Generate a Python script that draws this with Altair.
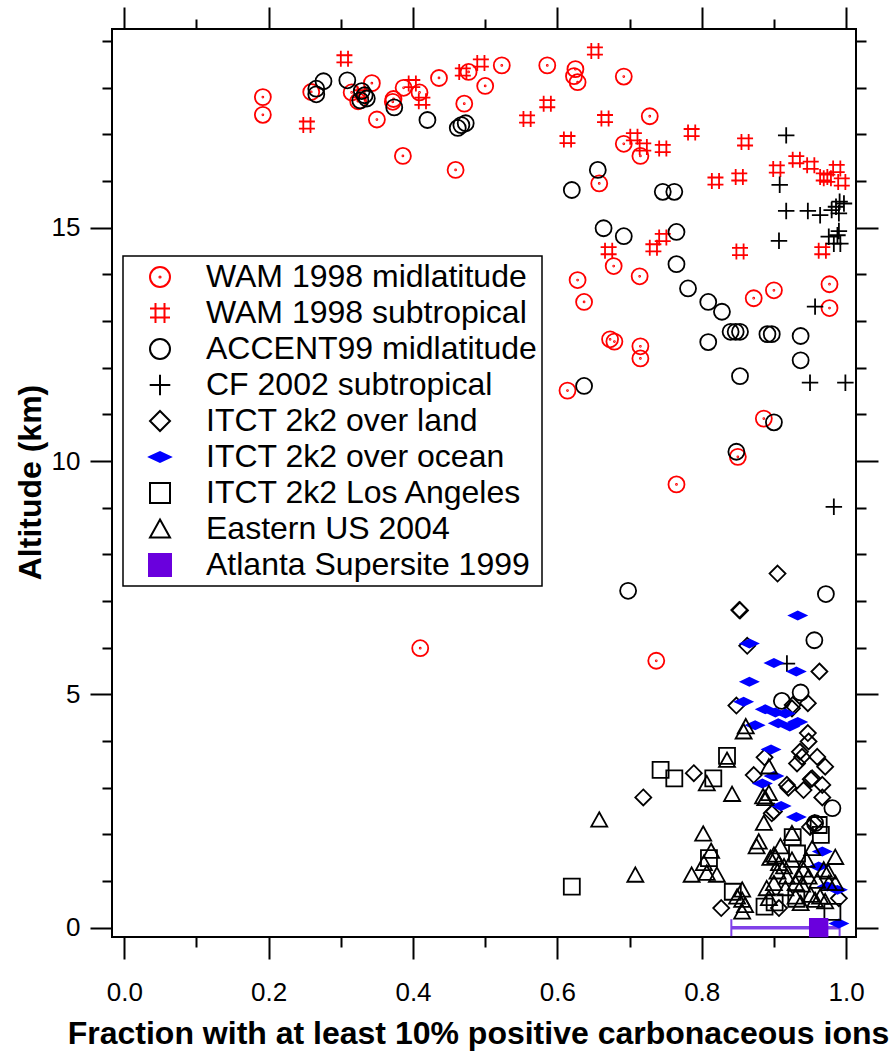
import altair as alt
import pandas as pd

series = ["WAM 1998 midlatitude", "WAM 1998 subtropical", "ACCENT99 midlatitude",
          "CF 2002 subtropical", "ITCT 2k2 over land", "ITCT 2k2 over ocean",
          "ITCT 2k2 Los Angeles", "Eastern US 2004", "Atlanta Supersite 1999"]

wm_x = [0.192, 0.192, 0.259, 0.315, 0.324, 0.343, 0.350, 0.373, 0.372, 0.387, 0.409, 0.436,
        0.471, 0.477, 0.500, 0.523, 0.386, 0.459, 0.586, 0.625, 0.623, 0.628, 0.692, 0.728,
        0.692, 0.715, 0.658, 0.628, 0.637, 0.678, 0.714, 0.673, 0.679, 0.715, 0.715, 0.614,
        0.872, 0.900, 0.977, 0.977, 0.886, 0.850, 0.765, 0.737, 0.410]
wm_y = [17.80, 17.42, 17.91, 17.90, 17.71, 18.10, 17.32, 17.76, 17.70, 18.00, 17.90, 18.21,
        17.66, 18.34, 18.04, 18.48, 16.54, 16.24, 18.48, 18.40, 18.25, 18.12, 18.24, 17.39,
        16.80, 16.54, 15.95, 13.88, 13.41, 14.18, 13.96, 12.61, 12.56, 12.46, 12.20, 11.51,
        13.49, 13.66, 13.79, 13.28, 10.91, 10.09, 9.50, 5.72, 5.99]

ws_x = [0.305, 0.253, 0.328, 0.399, 0.413, 0.469, 0.494, 0.558, 0.652, 0.586, 0.666, 0.614,
        0.706, 0.719, 0.746, 0.786, 0.860, 0.819, 0.852, 0.904, 0.931, 0.951, 0.969, 0.974,
        0.987, 0.994, 0.967, 0.746, 0.733, 0.671, 0.853]
ws_y = [18.62, 17.20, 17.87, 18.09, 17.71, 18.34, 18.53, 17.33, 18.79, 17.66, 17.34, 16.89,
        16.95, 16.73, 16.70, 17.04, 16.84, 16.00, 16.09, 16.26, 16.46, 16.34, 16.09, 16.06,
        16.27, 15.98, 14.51, 14.79, 14.57, 14.51, 14.49]

ac_x = [0.276, 0.266, 0.266, 0.309, 0.329, 0.327, 0.336, 0.333, 0.374, 0.420, 0.462, 0.467,
        0.473, 0.656, 0.620, 0.746, 0.762, 0.664, 0.692, 0.765, 0.765, 0.781, 0.809, 0.828,
        0.840, 0.847, 0.853, 0.891, 0.897, 0.937, 0.937, 0.809, 0.637, 0.853, 0.900, 0.848,
        0.698, 0.972, 0.956, 0.937, 0.911, 0.981, 0.957]
ac_y = [18.14, 17.98, 17.86, 18.16, 17.93, 17.73, 17.77, 17.84, 17.58, 17.31, 17.14, 17.20,
        17.24, 16.24, 15.81, 15.77, 15.77, 14.99, 14.82, 14.91, 14.22, 13.70, 13.41, 13.20,
        12.77, 12.77, 12.77, 12.72, 12.72, 12.68, 12.16, 12.55, 11.61, 11.82, 10.83, 10.20,
        7.22, 7.15, 6.16, 5.04, 4.86, 2.56, 2.24]

cf_x = [0.917, 0.908, 0.917, 0.947, 0.964, 0.980, 0.991, 0.997, 0.990, 0.986, 0.907, 0.976,
        0.988, 0.983, 0.992, 0.990, 0.957, 0.950, 0.999, 0.983, 0.918]
cf_y = [16.98, 15.92, 15.36, 15.36, 15.27, 15.38, 15.56, 15.52, 15.31, 15.45, 14.72, 14.81,
        14.84, 14.66, 14.66, 14.93, 13.31, 11.68, 11.68, 9.02, 5.66]

il_x = [0.905, 0.852, 0.853, 0.863, 0.963, 0.848, 0.926, 0.947, 0.925, 0.947, 0.948, 0.936,
        0.960, 0.971, 0.932, 0.939, 0.887, 0.872, 0.951, 0.967, 0.918, 0.789, 0.719, 0.920,
        0.941, 0.953, 0.967, 0.897, 0.950, 0.956, 0.827, 0.990, 0.907, 0.900]
il_y = [7.59, 6.81, 6.80, 6.04, 5.49, 4.76, 4.77, 4.81, 4.70, 4.17, 3.99, 3.77,
        3.66, 3.45, 3.52, 3.66, 3.65, 3.27, 3.18, 3.06, 3.06, 3.31, 2.79, 3.00,
        2.95, 3.20, 2.79, 2.45, 2.16, 2.24, 0.42, 0.63, 0.42, 2.49]

io_x = [0.933, 0.866, 0.900, 0.931, 0.866, 0.858, 0.888, 0.902, 0.916, 0.906, 0.922, 0.933,
        0.874, 0.896, 0.900, 0.884, 0.910, 0.931, 0.967, 0.962, 0.974, 0.988, 0.990]
io_y = [6.69, 6.09, 5.67, 5.49, 5.27, 4.84, 4.68, 4.61, 4.59, 4.38, 4.31, 4.41,
        4.34, 3.82, 3.25, 3.09, 2.61, 2.37, 1.63, 1.31, 0.88, 0.81, 0.09]

la_x = [0.743, 0.762, 0.816, 0.835, 0.620, 0.843, 0.887, 0.901, 0.931, 0.981, 0.926, 0.962,
        0.965, 0.932, 0.810]
la_y = [3.38, 3.20, 3.20, 3.68, 0.88, 0.77, 0.45, 0.54, 0.62, 0.34, 1.94, 2.20,
        1.99, 1.59, 1.49]

eu_x = [0.658, 0.708, 0.802, 0.813, 0.786, 0.807, 0.821, 0.803, 0.842, 0.807, 0.835, 0.856,
        0.856, 0.856, 0.860, 0.849, 0.886, 0.879, 0.876, 0.885, 0.893, 0.893, 0.890, 0.893,
        0.900, 0.888, 0.925, 0.909, 0.902, 0.895, 0.907, 0.914, 0.985, 0.953, 0.941, 0.934,
        0.948, 0.969, 0.976, 0.918, 0.900, 0.916, 0.930, 0.951, 0.964, 0.971, 0.957, 0.937,
        0.939, 0.930, 0.985, 0.861, 0.858, 0.905, 0.925, 0.945, 0.960, 0.975]
eu_y = [2.31, 1.13, 2.01, 1.64, 1.13, 1.17, 1.13, 1.38, 2.86, 3.09, 3.59, 0.81,
        0.59, 0.34, 0.48, 0.66, 2.24, 1.84, 1.74, 2.81, 2.88, 3.45, 0.84, 0.63,
        1.56, 2.77, 2.02, 1.74, 1.52, 1.49, 1.38, 1.31, 1.51, 1.70, 1.24, 1.09,
        1.09, 1.24, 0.95, 1.09, 0.95, 0.84, 0.66, 0.70, 0.66, 0.56, 0.59, 0.52,
        0.92, 0.95, 0.95, 4.31, 4.20, 1.20, 1.45, 1.45, 1.00, 1.20]

atl_x = [0.962]
atl_y = [0.0]
atl_lo = [0.841]
atl_hi = [0.991]

x_ticks = [0.0, 0.1, 0.2, 0.3, 0.4, 0.5, 0.6, 0.7, 0.8, 0.9, 1.0]
y_ticks = list(range(0, 20))

strokes = ["#ff0000", "#ff0000", "#000000", "#000000", "#000000", "#0000ff",
           "#000000", "#000000", "#6a00dd"]
fills = ["transparent", "transparent", "transparent", "transparent", "transparent",
         "#0000ff", "transparent", "transparent", "#6a00dd"]
CIRCLE = "M -1 0 A 1 1 0 1 1 1 0 A 1 1 0 1 1 -1 0 Z"
CIRCDOT = CIRCLE + " M -0.06 0 A 0.06 0.06 0 1 1 0.06 0 A 0.06 0.06 0 1 1 -0.06 0 Z"
HASH = "M -0.45 -1 L -0.45 1 M 0.45 -1 L 0.45 1 M -1 -0.45 L 1 -0.45 M -1 0.45 L 1 0.45"
PLUS = "M -1.03 0 L 1.03 0 M 0 -1.03 L 0 1.03"
DIAMOND = "M 0 -1 L 1 0 L 0 1 L -1 0 Z"
FLAT = "M -1.05 0 L 0 -0.5 L 1.05 0 L 0 0.5 Z"
SQUARE = "M -1 -1 L 1 -1 L 1 1 L -1 1 Z"
BIGSQUARE = "M -1.1 -1.1 L 1.1 -1.1 L 1.1 1.1 L -1.1 1.1 Z"
TRI = "M 0 -0.95 L 1 0.85 L -1 0.85 Z"
shapes = [CIRCDOT, HASH, CIRCLE, PLUS, DIAMOND, FLAT, SQUARE, TRI, BIGSQUARE]

all_x = [wm_x, ws_x, ac_x, cf_x, il_x, io_x, la_x, eu_x, atl_x]
all_y = [wm_y, ws_y, ac_y, cf_y, il_y, io_y, la_y, eu_y, atl_y]
rows = []
for name, xs, ys in zip(series, all_x, all_y):
    for xv, yv in zip(xs, ys):
        rows.append({"series": name, "frac": xv, "alt": yv})
df = pd.DataFrame(rows)
atl = pd.DataFrame({"x": atl_x, "y": atl_y, "lo": atl_lo, "hi": atl_hi})

FONT = "Liberation Sans"
xscale = alt.Scale(domain=[-0.017, 1.0137], nice=False, zero=False)
yscale = alt.Scale(domain=[-0.2, 19.26], nice=False, zero=False)

x_minor = "round(datum.value*10) % 2 == 1"
y_minor = "round(datum.value) % 5 != 0"

x_axis = alt.Axis(
    orient="bottom", values=x_ticks, domain=False, grid=False,
    tickSize=22, tickWidth=2, tickColor="black",
    tickDash={"condition": {"test": x_minor, "value": [10, 40]}, "value": []},
    labelExpr="round(datum.value*10) % 2 == 0 ? format(datum.value, '.1f') : ''",
    labelFont=FONT, labelFontSize=26, labelColor="black", labelPadding=20,
    labelOverlap=False, labelFlush=False,
    title="Fraction with at least 10% positive carbonaceous ions",
    titleFont=FONT, titleFontSize=32, titleFontWeight="bold", titleColor="black",
    titleX=366, titleY=106, titleBaseline="alphabetic", titleAlign="center",
)
y_axis = alt.Axis(
    orient="left", values=y_ticks, domain=False, grid=False,
    tickSize=22, tickWidth=2, tickColor="black",
    tickDash={"condition": {"test": y_minor, "value": [10, 40]}, "value": []},
    labelExpr="round(datum.value) % 5 == 0 ? format(datum.value, 'd') : ''",
    labelFont=FONT, labelFontSize=26, labelColor="black", labelPadding=10,
    labelOverlap=False, labelFlush=False,
    title="Altitude (km)",
    titleFont=FONT, titleFontSize=32, titleFontWeight="bold", titleColor="black",
    titleAngle=270, titleX=-72, titleY=453, titleBaseline="alphabetic", titleAlign="center",
)
x_top = alt.Axis(
    orient="top", values=x_ticks, domain=False, grid=False, labels=False, title=None,
    tickSize=22, tickWidth=2, tickColor="black",
    tickDash={"condition": {"test": x_minor, "value": [10, 40]}, "value": []},
)
y_right = alt.Axis(
    orient="right", values=y_ticks, domain=False, grid=False, labels=False, title=None,
    tickSize=22, tickWidth=2, tickColor="black",
    tickDash={"condition": {"test": y_minor, "value": [10, 40]}, "value": []},
)

leg = alt.Legend(
    orient="none", legendX=11, legendY=227, title=None,
    labelFont=FONT, labelFontSize=32, labelColor="black", labelLimit=0,
    symbolSize=400, symbolStrokeWidth=2, strokeColor="black", fillColor="white",
    padding=5, rowPadding=4, symbolOffset=16, labelOffset=30,
)

bar = alt.Chart(atl).mark_rule(color="#8040e8", strokeWidth=3.5).encode(
    x=alt.X("lo:Q", scale=xscale, axis=None),
    x2="hi:Q",
    y=alt.Y("y:Q", scale=yscale, axis=None),
)
caps_lo = alt.Chart(atl).mark_tick(orient="vertical", size=17, thickness=2, color="#8040e8", opacity=1).encode(
    x=alt.X("lo:Q", scale=xscale, axis=None),
    y=alt.Y("y:Q", scale=yscale, axis=None),
)
caps_hi = alt.Chart(atl).mark_tick(orient="vertical", size=17, thickness=2, color="#8040e8", opacity=1).encode(
    x=alt.X("hi:Q", scale=xscale, axis=None),
    y=alt.Y("y:Q", scale=yscale, axis=None),
)
mirror = alt.Chart(atl).mark_point(opacity=0).encode(
    x=alt.X("x:Q", scale=xscale, axis=x_top),
    y=alt.Y("y:Q", scale=yscale, axis=y_right),
)
points = alt.Chart(df).mark_point(strokeWidth=1.8, opacity=1, size=256).encode(
    x=alt.X("frac:Q", scale=xscale, axis=x_axis),
    y=alt.Y("alt:Q", scale=yscale, axis=y_axis),
    stroke=alt.Stroke("series:N", scale=alt.Scale(domain=series, range=strokes), legend=leg),
    fill=alt.Fill("series:N", scale=alt.Scale(domain=series, range=fills), legend=leg),
    shape=alt.Shape("series:N", scale=alt.Scale(domain=series, range=shapes), legend=leg),
)

chart = alt.layer(bar, caps_lo, caps_hi, points, mirror).resolve_axis(
    x="independent", y="independent"
).properties(
    width=744, height=908,
    autosize=alt.AutoSizeParams(type="none"),
    padding={"left": 112, "top": 29, "right": 35, "bottom": 114},
    background="white",
).configure_view(stroke="black", strokeWidth=2).configure_legend(strokeWidth=1.5)

chart.save("out.html", embed_options={"renderer": "svg", "actions": False})
